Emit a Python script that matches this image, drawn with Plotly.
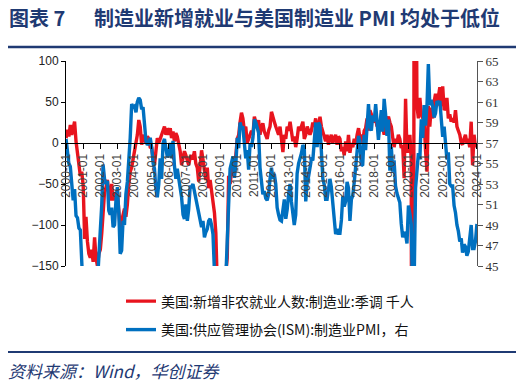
import pandas as pd
import plotly.graph_objects as go

# ---------------- data ----------------
months = pd.date_range("2000-01-01", "2024-01-01", freq="MS")

# US manufacturing nonfarm payroll change, SA, thousands (left axis)
payrolls = [
    6, 16, 8, 22, 10, 18, 26, 2, -15, -30, -40, -35,            # 2000
    -52, -117, -90, -120, -135, -140, -130, -145, -115, -140, -150, -135,  # 2001
    -130, -110, -90, -60, -55, -45, -60, -70, -50, -70, -60, -65,  # 2002
    -60, -80, -104, -95, -85, -80, -90, -75, -50, -35, -30, -20,   # 2003
    -15, 0, 10, 28, 20, -2, 10, 5, 0, 8, 5, -5,                    # 2004
    -6, -20, -27, -10, 6, 0, 5, 10, 15, 20, 10, 18,                # 2005
    10, 18, 6, 14, 2, 12, 8, 0, -10, -27, -15, -10,                # 2006
    -15, -20, -27, -18, -15, -20, -10, -25, -30, -47, -30, -9,     # 2007
    -20, -35, -45, -30, -55, -45, -60, -76, -85, -110, -180, -250, # 2008
    -300, -220, -200, -170, -160, -140, -40, -50, -35, -30, -20, -15,  # 2009
    5, 10, 25, 37, 30, 15, 20, 0, 5, 10, 15, 10,                   # 2010
    32, 25, 18, 28, 10, 20, 24, 14, 10, 5, 15, 20,                 # 2011
    38, 30, 26, 20, 14, 10, 20, 2, -11, 10, 5, 20,                 # 2012
    15, 26, 10, 2, 8, -5, 5, 20, 15, 22, 26, 5,                    # 2013
    10, 20, 15, 10, 15, 25, 20, 30, 10, 25, 32, 20,                # 2014
    14, 5, 2, 10, -2, 5, 10, 0, 5, 10, -2, 8,                      # 2015
    5, -10, -5, -15, 2, -10, 10, -12, 0, -5, 5, -2,                # 2016
    10, 18, 6, 10, 0, 15, 18, 30, 15, 40, 35, 30,                  # 2017
    25, 30, 20, 25, 15, 30, 20, 10, 25, 30, 32, 25,                # 2018
    20, 6, -5, 5, 0, 10, 5, -6, -3, -43, 54, -10,                  # 2019
    -10, 10, -20, -1300, 250, 350, 45, 30, 55, 35, 30, 26,         # 2020
    -10, -35, 45, 20, 43, 30, 50, 60, 45, 55, 68, 45,              # 2021
    69, 40, 43, 55, 30, 35, 26, 30, 25, 40, 20, 15,                # 2022
    10, 0, -2, 5, 10, 0, 5, -5, 26, -27, 10, -5,                   # 2023
    0,                                                             # 2024
]

# ISM manufacturing PMI (right axis)
pmi = [
    57.4, 56.0, 55.0, 54.7, 53.2, 51.4, 52.5, 49.9, 49.7, 48.7, 48.5, 43.9,  # 2000
    42.3, 41.9, 43.1, 43.2, 41.3, 43.2, 43.5, 44.5, 44.0, 40.8, 44.0, 45.5,  # 2001
    48.5, 51.0, 54.9, 53.5, 53.0, 53.3, 50.4, 50.0, 50.7, 48.8, 49.0, 51.4,  # 2002
    52.7, 50.0, 46.2, 46.5, 49.4, 49.0, 52.0, 53.2, 54.9, 57.5, 60.8, 60.5,  # 2003
    60.6, 60.0, 61.0, 61.4, 61.2, 60.3, 60.5, 58.5, 57.2, 56.8, 57.0, 57.5,  # 2004
    56.6, 55.0, 54.5, 52.5, 51.7, 53.0, 55.5, 53.5, 57.0, 57.4, 56.5, 55.6,  # 2005
    56.0, 57.0, 55.5, 57.2, 54.8, 53.5, 54.5, 53.5, 52.5, 51.7, 50.0, 49.6,  # 2006
    51.0, 49.4, 50.5, 52.7, 52.7, 53.0, 52.3, 51.5, 50.7, 50.0, 49.5, 48.8,  # 2007
    49.4, 47.8, 48.3, 48.6, 49.4, 49.6, 49.0, 48.1, 44.5, 38.9, 36.2, 32.4,  # 2008
    35.6, 35.8, 36.3, 40.1, 44.5, 47.5, 51.0, 54.5, 55.3, 55.7, 53.6, 54.9,  # 2009
    57.5, 56.5, 59.0, 58.5, 58.5, 56.6, 55.5, 56.3, 54.4, 56.9, 56.6, 57.5,  # 2010
    59.3, 59.0, 58.5, 58.0, 54.6, 53.5, 52.0, 52.3, 51.6, 51.4, 52.0, 53.5,  # 2011
    54.6, 53.5, 54.0, 53.0, 50.7, 50.0, 49.5, 49.4, 50.5, 51.5, 49.6, 50.5,  # 2012
    52.0, 53.0, 51.3, 50.0, 49.0, 50.0, 54.0, 55.0, 55.5, 56.0, 56.8, 56.5,  # 2013
    51.3, 53.2, 53.7, 54.9, 55.4, 55.3, 57.1, 59.0, 56.6, 59.0, 58.7, 55.5,  # 2014
    53.5, 52.9, 51.5, 51.5, 52.8, 53.5, 52.7, 51.1, 50.2, 48.1, 48.6, 48.2,  # 2015
    48.2, 49.5, 51.8, 50.8, 51.3, 53.2, 52.6, 49.4, 51.5, 51.9, 53.2, 54.7,  # 2016
    56.0, 57.7, 57.2, 54.8, 54.9, 57.8, 56.3, 58.8, 60.8, 58.7, 58.2, 59.7,  # 2017
    59.1, 60.8, 59.3, 57.3, 58.7, 60.2, 58.1, 61.3, 59.8, 57.7, 59.3, 54.3,  # 2018
    56.6, 54.2, 55.3, 52.8, 52.1, 51.7, 51.2, 49.1, 47.8, 48.3, 48.1, 47.2,  # 2019
    50.9, 50.1, 49.1, 41.5, 43.1, 52.6, 54.2, 56.0, 55.4, 59.3, 57.5, 60.7,  # 2020
    58.7, 60.8, 64.7, 60.7, 61.2, 60.6, 59.5, 59.9, 61.1, 60.8, 61.1, 58.7,  # 2021
    57.6, 58.6, 57.1, 55.4, 56.1, 53.0, 52.8, 52.8, 50.9, 50.2, 49.0, 48.4,  # 2022
    47.4, 47.7, 46.3, 47.1, 46.9, 46.0, 46.4, 47.6, 49.0, 46.7, 46.7, 47.4,  # 2023
    49.1,                                                                     # 2024
]

tick_years = list(range(2000, 2025))
tick_dates = [f"{y}-01-01" for y in tick_years]
tick_text = [f"{y}-01" for y in tick_years]

name_red = "美国:新增非农就业人数:制造业:季调 千人"
name_blue = "美国:供应管理协会(ISM):制造业PMI，右"

TITLE_BLUE = "#1F3A73"
RED = "#E8141E"
BLUE = "#0070C0"

W, H = 516, 379  # page body has an 8px margin

fig = go.Figure()
fig.add_trace(go.Scatter(
    x=months, y=payrolls, name=name_red, mode="lines",
    line=dict(color=RED, width=3.4), yaxis="y", legend="legend",
))
fig.add_trace(go.Scatter(
    x=months, y=pmi, name=name_blue, mode="lines",
    line=dict(color=BLUE, width=3.4), yaxis="y2", legend="legend2",
))

fig.update_layout(
    width=W, height=H,
    margin=dict(l=58, r=47, t=53, b=121, autoexpand=False),
    paper_bgcolor="white", plot_bgcolor="white",
    font=dict(family="Liberation Sans, Noto Sans CJK SC", size=12, color="#222"),
    xaxis=dict(
        type="date",
        range=["1999-12-31", "2024-01-03"],
        tickmode="array", tickvals=tick_dates, ticktext=tick_text,
        tickangle=-90,
        tickfont=dict(family="Liberation Sans", size=12, color="#404040"),
        ticks="outside", ticklen=5, tickcolor="black", tickwidth=1,
        showline=True, linecolor="black", linewidth=1,
        showgrid=False, zeroline=False,
        anchor="free", position=0.6,
        automargin=False,
    ),
    yaxis=dict(
        range=[-150, 100], dtick=50, tick0=0,
        ticks="outside", ticklen=4, tickcolor="black",
        showline=True, linecolor="black", linewidth=1,
        showgrid=False, zeroline=False,
        tickfont=dict(family="Liberation Sans", size=12, color="#222"),
        automargin=False,
    ),
    yaxis2=dict(
        range=[45, 65], dtick=2, tick0=45,
        overlaying="y", side="right", anchor="x",
        ticks="outside", ticklen=5, tickcolor="#555",
        showline=True, linecolor="#555", linewidth=1,
        showgrid=False, zeroline=False,
        tickfont=dict(family="Liberation Serif", size=13, color="#333"),
        automargin=False,
    ),
    legend=dict(
        xref="container", yref="container",
        x=113 / W, y=1 - 293.5 / H, xanchor="left", yanchor="middle",
        font=dict(family="Noto Sans CJK SC", size=14, color="#111"),
        bgcolor="rgba(0,0,0,0)", borderwidth=0,
    ),
    legend2=dict(
        xref="container", yref="container",
        x=113 / W, y=1 - 322 / H, xanchor="left", yanchor="middle",
        font=dict(family="Noto Sans CJK SC", size=14, color="#111"),
        bgcolor="rgba(0,0,0,0)", borderwidth=0,
    ),
    showlegend=True,
)

# title and footer (paper coordinates; plot area spans 411 x 205 px)
fig.add_annotation(
    text="<b>图表 7</b>", xref="paper", yref="paper",
    x=(7 - 66) / 411, y=1 + (61 - 17) / 205, xanchor="left", yanchor="middle",
    showarrow=False, font=dict(family="Noto Sans CJK SC", size=20, color=TITLE_BLUE),
)
fig.add_annotation(
    text="<b>制造业新增就业与美国制造业 PMI 均处于低位</b>", xref="paper", yref="paper",
    x=(92 - 66) / 411, y=1 + (61 - 17) / 205, xanchor="left", yanchor="middle",
    showarrow=False, font=dict(family="Noto Sans CJK SC", size=20, color=TITLE_BLUE),
)
fig.add_shape(
    type="line", xref="paper", yref="paper",
    x0=(5 - 66) / 411, x1=(517 - 66) / 411,
    y0=1 + (61 - 47) / 205, y1=1 + (61 - 47) / 205,
    line=dict(color=TITLE_BLUE, width=2.5),
)
fig.add_shape(
    type="line", xref="paper", yref="paper",
    x0=(5 - 66) / 411, x1=(517 - 66) / 411,
    y0=(266 - 352) / 205, y1=(266 - 352) / 205,
    line=dict(color=TITLE_BLUE, width=2),
)
fig.add_annotation(
    text="<i>资料来源：Wind，华创证券</i>", xref="paper", yref="paper",
    x=(6 - 66) / 411, y=(266 - 370) / 205, xanchor="left", yanchor="middle",
    showarrow=False, font=dict(family="Noto Sans CJK SC", size=17, color=TITLE_BLUE),
)

fig.write_html("out.html")
